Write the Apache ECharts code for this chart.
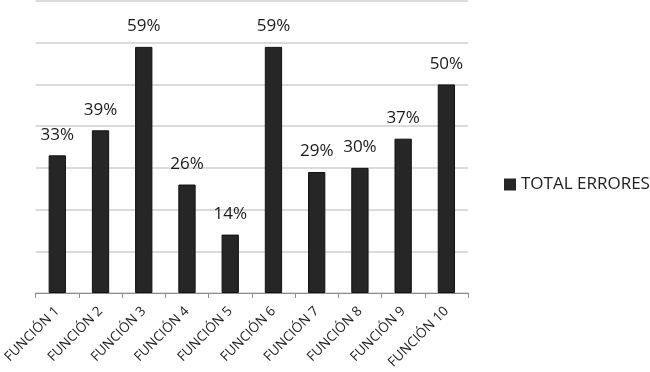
<!DOCTYPE html>
<html>
<head>
<meta charset="utf-8">
<script src="https://cdn.jsdelivr.net/npm/echarts@6/dist/echarts.min.js"></script>
<style>
  html, body { margin: 0; padding: 0; background: #fff; }
  #chart { width: 650px; height: 372px; }
</style>
</head>
<body>
<div id="chart"></div>
<script>
const categories = ['FUNCIÓN 1', 'FUNCIÓN 2', 'FUNCIÓN 3', 'FUNCIÓN 4', 'FUNCIÓN 5',
  'FUNCIÓN 6', 'FUNCIÓN 7', 'FUNCIÓN 8', 'FUNCIÓN 9', 'FUNCIÓN 10']
const totalErrores = [33, 39, 59, 26, 14, 59, 29, 30, 37, 50]
const seriesName = 'TOTAL ERRORES'

let myChart = echarts.init(document.getElementById('chart'))
myChart.setOption({
  animation: false,
  textStyle: { fontFamily: 'Open Sans' },
  grid: {
    left: 34,
    right: 182,
    top: 1,
    bottom: 79
  },
  legend: {
    data: [seriesName],
    orient: 'vertical',
    left: 499,
    top: 171,
    itemWidth: 12,
    itemHeight: 12,
    itemGap: 6,
    icon: 'rect',
    itemStyle: { color: '#262626', borderWidth: 0 },
    textStyle: {
      color: '#222',
      fontSize: 17,
      fontFamily: 'Open Sans'
    }
  },
  xAxis: {
    type: 'category',
    data: categories,
    axisLine: { lineStyle: { color: '#8c8c8c', width: 1 } },
    axisTick: { show: true, length: 5, lineStyle: { color: '#8c8c8c' } },
    axisLabel: {
      interval: 0,
      rotate: 45,
      color: '#222',
      fontSize: 13.5,
      margin: 16
    }
  },
  yAxis: {
    type: 'value',
    min: 0,
    max: 70,
    interval: 10,
    axisLine: { show: false },
    axisTick: { show: false },
    axisLabel: { show: false },
    splitLine: { lineStyle: { color: '#cfcfcf', width: 1.5 } }
  },
  series: [
    {
      name: seriesName,
      type: 'bar',
      barWidth: '40%',
      data: totalErrores,
      itemStyle: {
        color: '#262626',
        borderColor: '#111',
        borderWidth: 1
      },
      label: {
        show: true,
        position: 'top',
        distance: 12,
        color: '#1a1a1a',
        fontSize: 17,
        formatter: '{c}%'
      }
    }
  ]
})
</script>
</body>
</html>
